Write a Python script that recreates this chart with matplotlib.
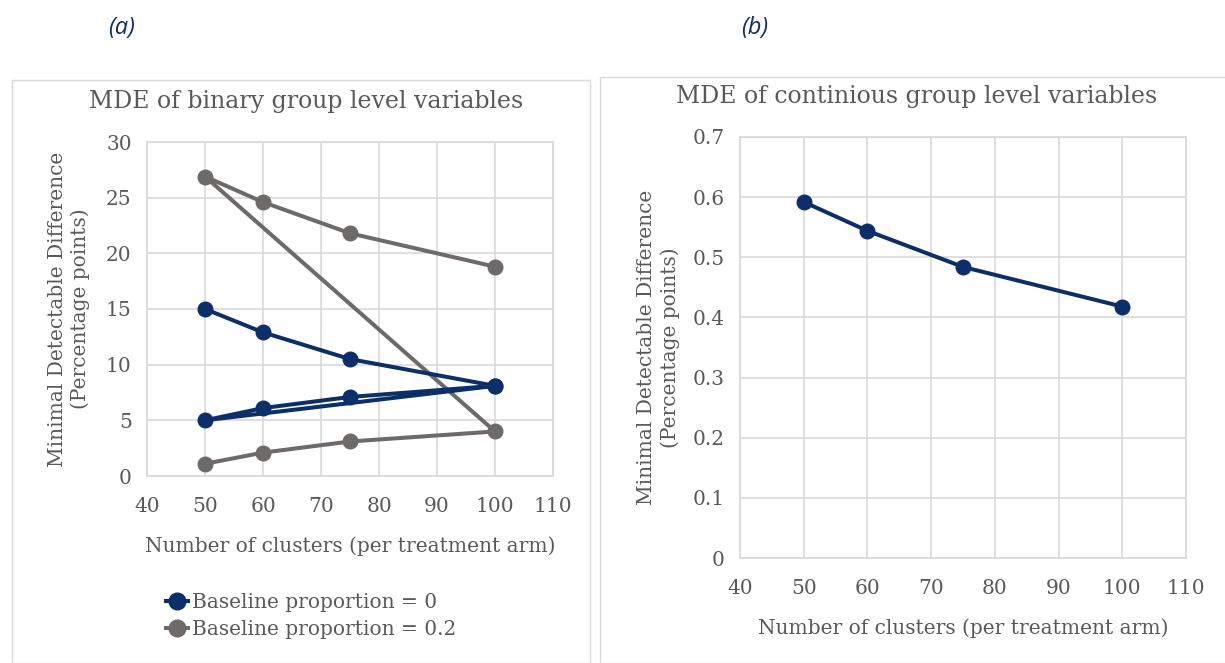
import matplotlib.pyplot as plt
from matplotlib.patches import Rectangle
from matplotlib.lines import Line2D

# data
clusters = [50, 60, 75, 100]
bin_base0_high = [15.0, 12.9, 10.5, 8.1]
bin_base0_low = [5.0, 6.1, 7.1, 8.1]
bin_base02_high = [26.9, 24.6, 21.8, 18.8]
bin_base02_low = [1.1, 2.1, 3.1, 4.0]
cont_mde = [0.592, 0.544, 0.484, 0.418]

# series as drawn in the original (points joined in this order)
x_base0 = clusters + clusters
y_base0 = bin_base0_high + bin_base0_low
x_base02 = clusters[::-1] + clusters[::-1]
y_base02 = bin_base02_high[::-1] + bin_base02_low[::-1]

blue = '#0b2f6b'
grey = '#6f6a6a'
txt = '#595959'
gridc = '#d9d9d9'
W, H = 1225, 663

plt.rcParams['font.family'] = 'DejaVu Serif'

fig = plt.figure(figsize=(12.25, 6.63), dpi=100)

# panel frames
fig.patches.append(Rectangle((12 / W, 0), 578 / W, 1 - 80 / H, transform=fig.transFigure,
                             fill=False, edgecolor=gridc, lw=1))
fig.patches.append(Rectangle((600 / W, 0), 640 / W, 1 - 77 / H, transform=fig.transFigure,
                             fill=False, edgecolor=gridc, lw=1))

fig.text(122 / W, 1 - 28 / H, '(a)', color=blue, fontsize=17, style='italic',
         family='Open Sans', ha='center', va='center')
fig.text(755 / W, 1 - 28 / H, '(b)', color=blue, fontsize=17, style='italic',
         family='Open Sans', ha='center', va='center')


def style_axes(ax):
    ax.grid(True, color=gridc, lw=1.2)
    ax.set_axisbelow(True)
    for s in ax.spines.values():
        s.set_color(gridc)
        s.set_linewidth(1.2)
    ax.tick_params(length=0, labelsize=14.5, labelcolor=txt)
    ax.tick_params(axis='x', pad=15)
    ax.tick_params(axis='y', pad=11)
    ax.set_xlim(40, 110)
    ax.set_xticks(range(40, 111, 10))


ylab = 'Minimal Detectable Difference\n(Percentage points)'
xlab = 'Number of clusters (per treatment arm)'

# (a) binary variables
ax1 = fig.add_axes([147 / W, 1 - 476 / H, 406 / W, 334 / H])
style_axes(ax1)
ax1.plot(x_base02, y_base02, color=grey, lw=2.9, marker='o', ms=10.5, zorder=3)
ax1.plot(x_base0, y_base0, color=blue, lw=2.9, marker='o', ms=10.5, zorder=4)
ax1.set_ylim(0, 30)
ax1.set_yticks(range(0, 31, 5))
ax1.set_title('MDE of binary group level variables', color=txt, fontsize=17,
              x=0.392, y=1.096, va='center')
ax1.set_xlabel(xlab, color=txt, fontsize=14.5, labelpad=15)
ax1.set_ylabel(ylab, color=txt, fontsize=14.5, linespacing=1.25)
ax1.yaxis.set_label_coords(-0.14, 0.5)

handles = [Line2D([], [], color=blue, lw=2.9, marker='o', ms=12),
           Line2D([], [], color=grey, lw=2.9, marker='o', ms=12)]
fig.legend(handles, ['Baseline proportion = 0', 'Baseline proportion = 0.2'],
           loc='upper left', bbox_to_anchor=(156 / W, 1 - 583 / H), frameon=False,
           fontsize=14.5, labelcolor=txt, handlelength=1.1, handletextpad=0.2,
           labelspacing=0.4, borderpad=0)

# (b) continuous variables
ax2 = fig.add_axes([740 / W, 1 - 558 / H, 446 / W, 421 / H])
style_axes(ax2)
ax2.plot(clusters, cont_mde, color=blue, lw=2.9, marker='o', ms=10.5, zorder=3)
ax2.set_ylim(0, 0.7)
ax2.set_yticks([0, 0.1, 0.2, 0.3, 0.4, 0.5, 0.6, 0.7])
ax2.set_yticklabels(['0', '0.1', '0.2', '0.3', '0.4', '0.5', '0.6', '0.7'])
ax2.set_title('MDE of continious group level variables', color=txt, fontsize=17,
              x=0.395, y=1.076, va='center')
ax2.set_xlabel(xlab, color=txt, fontsize=14.5, labelpad=15)
ax2.set_ylabel(ylab, color=txt, fontsize=14.5, linespacing=1.25)
ax2.yaxis.set_label_coords(-0.1345, 0.5)

fig.savefig('out.png', dpi=100)
